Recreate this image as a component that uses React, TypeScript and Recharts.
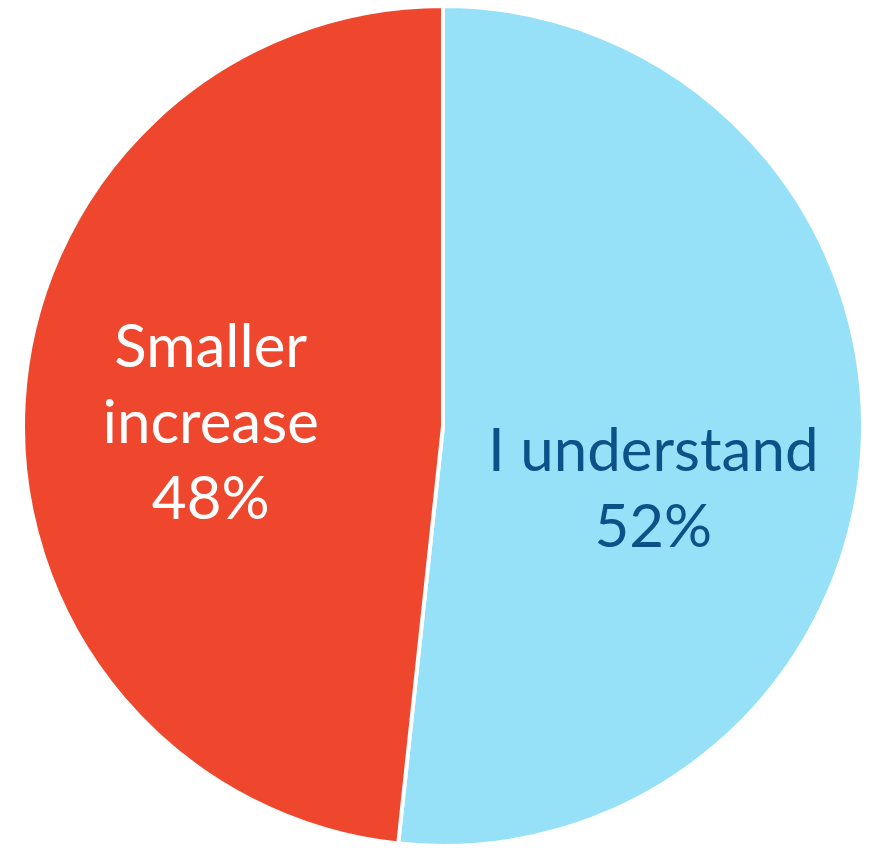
import { PieChart, Pie, Cell } from 'recharts';

const categories = ['I understand', 'Smaller increase'];
// slice sizes; labels show them rounded
const shares = [51.7, 48.3];
const sliceColors = ['#97E1F8', '#EF472D'];
const labelColors = ['#0B5288', '#FFFFFF'];
// label text split into lines, last line is the percent
const labelLines = [['I understand'], ['Smaller', 'increase']];

const data = categories.map((name, i) => ({ name, value: shares[i] }));

const FONT = 'Lato, "Open Sans", sans-serif';
const LINE_H = 76;
// small per-slice nudges so the text sits like the original
const nudges = [{ dx: -12, dy: 71 }, { dx: -10, dy: 29 }];

const renderLabel = (props: any) => {
  const { cx, cy, midAngle, outerRadius, index } = props;
  const RAD = Math.PI / 180;
  const r = outerRadius * 0.53;
  const x = cx + r * Math.cos(-midAngle * RAD) + nudges[index].dx;
  const y = cy + r * Math.sin(-midAngle * RAD) + nudges[index].dy;
  const lines = [...labelLines[index], `${Math.round(shares[index])}%`];
  const top = y - ((lines.length - 1) * LINE_H) / 2; // y is the middle baseline
  return (
    <text
      key={`lbl-${index}`}
      x={x}
      y={top}
      textAnchor="middle"
      fill={labelColors[index]}
      fontSize={60}
      fontFamily={FONT}
    >
      {lines.map((l, i) => (
        <tspan key={i} x={x} y={top + i * LINE_H}>
          {l}
        </tspan>
      ))}
    </text>
  );
};

export default function App() {
  return (
    <div style={{ position: 'absolute', left: 0, top: 0, width: 874, height: 848, background: '#fff' }}>
      <PieChart width={874} height={848} margin={{ top: 0, right: 0, bottom: 0, left: 0 }}>
        <Pie
          data={data}
          dataKey="value"
          nameKey="name"
          cx={443}
          cy={426}
          outerRadius={420}
          startAngle={90}
          endAngle={-270}
          stroke="#FFFFFF"
          strokeWidth={4}
          label={renderLabel}
          labelLine={false}
          isAnimationActive={false}
        >
          {data.map((d, i) => (
            <Cell key={d.name} fill={sliceColors[i]} />
          ))}
        </Pie>
      </PieChart>
    </div>
  );
}
